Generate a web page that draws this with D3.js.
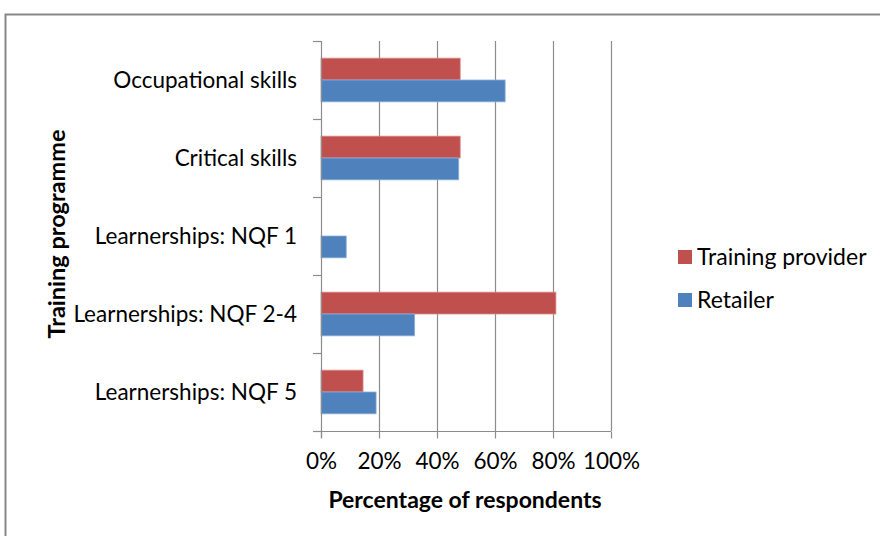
<!doctype html>
<html>
<head>
    <title>Training programme chart</title>
    <script src='https://d3js.org/d3.v7.min.js'></script>
    <style>
        body { margin: 0; background: #fff; }
        svg { font-family: Lato, 'Open Sans', sans-serif; }
    </style>
</head>
<body>
<svg></svg>
</body>
<script>

    // categories top to bottom
    var categories = ['Occupational skills', 'Critical skills', 'Learnerships: NQF 1',
                      'Learnerships: NQF 2-4', 'Learnerships: NQF 5'];
    var seriesNames = ['Training provider', 'Retailer'];
    var trainingProvider = [0.48, 0.48, 0, 0.81, 0.145];
    var retailer = [0.635, 0.475, 0.087, 0.323, 0.19];
    var xTicks = [0, 0.2, 0.4, 0.6, 0.8, 1];
    var colors = ['#C0504D', '#4F81BD'];

    var svgWidth = 880, svgHeight = 536;
    var plotLeft = 321, plotRight = 611, plotTop = 41, plotBottom = 431;

    var svg = d3.select('svg')
        .attr('width', svgWidth)
        .attr('height', svgHeight);

    // outer frame
    svg.append('rect')
        .attr('x', 5.5).attr('y', 14.5)
        .attr('width', svgWidth + 10).attr('height', svgHeight + 10)
        .attr('fill', 'none')
        .attr('stroke', '#878787')
        .attr('stroke-width', 2);

    var xScale = d3.scaleLinear()
        .domain([0, 1])
        .range([plotLeft, plotRight]);

    var yScale = d3.scaleBand()
        .domain(categories)
        .range([plotTop, plotBottom])
        .paddingInner(0.44)
        .paddingOuter(0.22);

    var inner = d3.scaleBand()
        .domain(seriesNames)
        .range([0, yScale.bandwidth()]);

    // gridlines
    svg.append('g').selectAll('line')
        .data(xTicks.slice(1))
        .enter()
        .append('line')
        .attr('x1', function (d) { return Math.round(xScale(d)) + 0.5; })
        .attr('x2', function (d) { return Math.round(xScale(d)) + 0.5; })
        .attr('y1', plotTop)
        .attr('y2', plotBottom)
        .attr('stroke', '#8c8c8c')
        .attr('stroke-width', 1.2);

    // bars
    var rows = categories.map(function (c, i) {
        return { cat: c, values: [trainingProvider[i], retailer[i]] };
    });

    var groups = svg.append('g').selectAll('g')
        .data(rows)
        .enter()
        .append('g')
        .attr('transform', function (d) { return 'translate(0,' + yScale(d.cat) + ')'; });

    groups.selectAll('rect')
        .data(function (d) { return d.values.map(function (v, j) { return { name: seriesNames[j], v: v, j: j }; }); })
        .enter()
        .append('rect')
        .attr('x', xScale(0))
        .attr('y', function (d) { return inner(d.name); })
        .attr('width', function (d) { return xScale(d.v) - xScale(0); })
        .attr('height', inner.bandwidth())
        .attr('fill', function (d) { return colors[d.j]; })
        .attr('stroke', function (d) { return d.v > 0 ? (d.j === 0 ? '#d98a88' : '#8fb0dc') : 'none'; })
        .attr('stroke-width', 0.8);

    // y axis: line + ticks at band boundaries
    var yAxisG = svg.append('g').attr('stroke', '#8c8c8c').attr('stroke-width', 1.2);
    yAxisG.append('line')
        .attr('x1', plotLeft + 0.5).attr('x2', plotLeft + 0.5)
        .attr('y1', plotTop).attr('y2', plotBottom + 7);
    var bounds = categories.map(function (c) { return yScale(c) - yScale.step() * 0.22; }).concat([plotBottom]);
    yAxisG.selectAll('.yt')
        .data(bounds)
        .enter()
        .append('line')
        .attr('x1', plotLeft - 8).attr('x2', plotLeft)
        .attr('y1', function (d) { return Math.round(d) + 0.5; })
        .attr('y2', function (d) { return Math.round(d) + 0.5; });

    // x axis
    var x_axis = d3.axisBottom(xScale)
        .tickValues(xTicks)
        .tickSize(7)
        .tickPadding(15)
        .tickFormat(d3.format('.0%'));

    var xg = svg.append('g')
        .attr('transform', 'translate(0,' + (plotBottom + 0.5) + ')')
        .call(x_axis);
    xg.select('.domain').remove();
    xg.append('line').attr('x1', plotLeft - 8).attr('x2', plotRight).attr('stroke', '#8c8c8c').attr('stroke-width', 1.2);
    xg.selectAll('.tick line').attr('stroke', '#8c8c8c').attr('stroke-width', 1.2);
    xg.selectAll('.tick text')
        .attr('font-size', 22.5)
        .attr('fill', '#000')
        .attr('font-family', 'Lato, sans-serif');

    // category labels
    svg.append('g').selectAll('text')
        .data(categories)
        .enter()
        .append('text')
        .attr('x', 297)
        .attr('y', function (d) { return yScale(d) + yScale.bandwidth() / 2; })
        .attr('dy', '0.35em')
        .attr('text-anchor', 'end')
        .attr('font-size', 22.5)
        .attr('fill', '#000')
        .text(function (d) { return d; });

    // axis titles
    svg.append('text')
        .attr('x', 465).attr('y', 508)
        .attr('text-anchor', 'middle')
        .attr('font-size', 23)
        .attr('font-weight', 'bold')
        .text('Percentage of respondents');

    svg.append('text')
        .attr('transform', 'translate(65,234) rotate(-90)')
        .attr('text-anchor', 'middle')
        .attr('font-size', 23.5)
        .attr('font-weight', 'bold')
        .text('Training programme');

    // legend
    var legend = svg.append('g').selectAll('g')
        .data(seriesNames)
        .enter()
        .append('g')
        .attr('transform', function (d, i) { return 'translate(678,' + (250 + i * 43) + ')'; });
    legend.append('rect')
        .attr('width', 14).attr('height', 14)
        .attr('fill', function (d, i) { return colors[i]; });
    legend.append('text')
        .attr('x', 19).attr('y', 7)
        .attr('dy', '0.35em')
        .attr('font-size', 23)
        .text(function (d) { return d; });

</script>
</html>
